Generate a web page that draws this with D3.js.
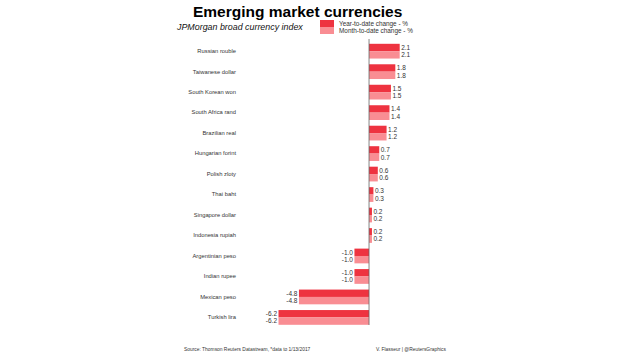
<!DOCTYPE html>
<html>
<head>
<meta charset="utf-8">
<script src="https://cdn.jsdelivr.net/npm/d3@7.8.5/dist/d3.min.js"></script>
<style>
  body { margin: 0; background: #fff; }
  svg { display: block; font-family: "Liberation Sans", Arial, sans-serif; }
</style>
</head>
<body>
<svg id="chart" width="620" height="354"></svg>
<script>
// currencies, top to bottom
const currencies = ["Russian rouble", "Taiwanese dollar", "South Korean won", "South Africa rand",
  "Brazilian real", "Hungarian forint", "Polish zloty", "Thai baht", "Singapore dollar",
  "Indonesia rupiah", "Argentinian peso", "Indian rupee", "Mexican peso", "Turkish lira"];
const ytdChange = [2.1, 1.8, 1.5, 1.4, 1.2, 0.7, 0.6, 0.3, 0.2, 0.2, -1.0, -1.0, -4.8, -6.2];
const mtdChange = [2.1, 1.8, 1.5, 1.4, 1.2, 0.7, 0.6, 0.3, 0.2, 0.2, -1.0, -1.0, -4.8, -6.2];
const seriesNames = ["Year-to-date change - %", "Month-to-date change - %"];
const colors = ["#ee3340", "#f98d93"];

const svg = d3.select("#chart");

// x: zero line at 369, ~14.6px per unit
const x = d3.scaleLinear().domain([-6.2, 2.1]).range([278.5, 399.7]);
const y = d3.scaleBand().domain(currencies).range([43.8, 324.8]).paddingInner(0.28).paddingOuter(0);
const sub = d3.scaleBand().domain([0, 1]).range([0, y.bandwidth()]);

// title
svg.append("text").attr("x", 193).attr("y", 17)
  .attr("font-size", 15.5).attr("font-weight", "bold").attr("fill", "#000")
  .text("Emerging market currencies");
svg.append("text").attr("x", 177).attr("y", 30)
  .attr("font-size", 8.9).attr("font-style", "italic").attr("fill", "#111")
  .text("JPMorgan broad currency index");

// legend
const legend = svg.append("g").attr("transform", "translate(320,20)");
seriesNames.forEach((n, i) => {
  legend.append("rect").attr("x", 0).attr("y", i * 7).attr("width", 14).attr("height", 7)
    .attr("fill", colors[i]);
  legend.append("text").attr("x", 19).attr("y", i * 7 + 5.5)
    .attr("font-size", 6.4).attr("fill", "#333").text(n);
});

const rows = svg.append("g");
const series = [ytdChange, mtdChange];

currencies.forEach((c, i) => {
  const y0 = y(c);
  series.forEach((vals, s) => {
    const v = vals[i];
    const by = y0 + sub(s);
    rows.append("rect")
      .attr("x", Math.min(x(0), x(v)))
      .attr("y", by)
      .attr("width", Math.abs(x(v) - x(0)))
      .attr("height", sub.bandwidth())
      .attr("fill", colors[s]);
    rows.append("text")
      .attr("x", v >= 0 ? x(v) + 1.5 : x(v) - 1.5)
      .attr("y", by + sub.bandwidth() / 2 + 2.3)
      .attr("text-anchor", v >= 0 ? "start" : "end")
      .attr("font-size", 6.5).attr("fill", "#333")
      .text(v.toFixed(1));
  });
});

// category labels
const yAxis = svg.append("g").attr("transform", "translate(236,0)")
  .call(d3.axisLeft(y).tickSize(0).tickPadding(0));
yAxis.select(".domain").remove();
yAxis.selectAll("text").attr("font-size", 5.8).attr("fill", "#333")
  .attr("font-family", "Liberation Sans, Arial, sans-serif");

// zero line
svg.append("line").attr("x1", x(0)).attr("x2", x(0)).attr("y1", 39).attr("y2", 325)
  .attr("stroke", "#666").attr("stroke-width", 0.8);

// footer
svg.append("text").attr("x", 184).attr("y", 351)
  .attr("font-size", 4.9).attr("fill", "#333")
  .text("Source: Thomson Reuters Datastream, *data to 1/13/2017");
svg.append("text").attr("x", 376).attr("y", 351)
  .attr("font-size", 4.9).attr("fill", "#333")
  .text("V. Flasseur | @ReutersGraphics");
</script>
</body>
</html>
